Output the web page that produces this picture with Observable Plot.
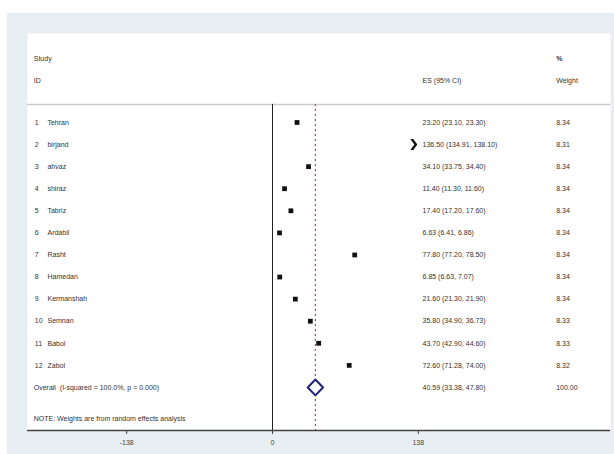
<!DOCTYPE html>
<html><head><meta charset="utf-8">
<script src="https://cdn.jsdelivr.net/npm/d3@7"></script>
<script src="https://cdn.jsdelivr.net/npm/@observablehq/plot@0.6"></script>
<style>
html,body{margin:0;padding:0;background:#fff;}
#chart{position:absolute;left:7px;top:13px;}
</style></head><body><div id="chart"></div>
<script>
// ---- data ----
const ids = [1,2,3,4,5,6,7,8,9,10,11,12];
const studies = ["Tehran","birjand","ahvaz","shiraz","Tabriz","Ardabil","Rasht","Hamedan","Kermanshah","Semnan","Babol","Zabol"];
const es = [23.20,136.50,34.10,11.40,17.40,6.63,77.80,6.85,21.60,35.80,43.70,72.60];
const lower = [23.10,134.91,33.75,11.30,17.20,6.41,77.20,6.63,21.30,34.90,42.90,71.28];
const upper = [23.30,138.10,34.40,11.60,17.60,6.86,78.50,7.07,21.90,36.73,44.60,74.00];
const weights = [8.34,8.31,8.34,8.34,8.34,8.34,8.34,8.34,8.34,8.33,8.33,8.32];
const overallES = 40.59, overallLower = 33.38, overallUpper = 47.80, overallWeight = 100.00;
const overallLabel = "Overall  (I-squared = 100.0%, p = 0.000)";
const noteLabel = "NOTE: Weights are from random effects analysis";
const headers = {study: "Study", id: "ID", es: "ES (95% CI)", pct: "%", weight: "Weight"};
const xTicks = [-138, 0, 138];

// ---- layout ----
const xMax = 138;
const xDomain = [-231.9, 319.9];
const yDomain = [-3.03, 14.95];
const colStudy = -226, colNum = -225, colName = -213, colES = 142, colW = 268.5;
const sepRow = 0.18, overallRow = 13, noteRow = 14.4, hdr1 = -1.9, hdr2 = -0.9;

const rows = ids.map((id, i) => ({
  row: i + 1, id, name: studies[i], es: es[i], lo: lower[i], hi: upper[i], w: weights[i],
  esText: `${es[i].toFixed(2)} (${lower[i].toFixed(2)}, ${upper[i].toFixed(2)})`,
  wText: weights[i].toFixed(2),
  clipped: upper[i] > xMax
}));
const inRange = rows.filter(d => !d.clipped);
const outRange = rows.filter(d => d.clipped);

const dh = 0.36;
const diamond = [
  {x: overallLower, y: overallRow}, {x: overallES, y: overallRow - dh},
  {x: overallUpper, y: overallRow}, {x: overallES, y: overallRow + dh},
  {x: overallLower, y: overallRow}
];

const chevron = {
  draw(ctx, size) {
    ctx.moveTo(-8, -5.5); ctx.lineTo(-5, -5.5); ctx.lineTo(-1, 0);
    ctx.lineTo(-5, 5.5); ctx.lineTo(-8, 5.5); ctx.lineTo(-4, 0); ctx.closePath();
  }
};

const txt = {fontSize: 7, fill: "#333", textAnchor: "start", lineAnchor: "middle", fontFamily: "Liberation Sans, Arial, sans-serif"};

const chart = Plot.plot({
  width: 607, height: 441,
  marginLeft: 20, marginRight: 4, marginTop: 20, marginBottom: 24,
  style: {background: "#e8eff2", fontFamily: "Liberation Sans, Arial, sans-serif"},
  x: {domain: xDomain, axis: null},
  y: {domain: yDomain, axis: null, reverse: true},
  marks: [
    Plot.frame({fill: "white", stroke: "none"}),
    Plot.ruleY([sepRow], {stroke: "#c9cccf", strokeWidth: 1.5}),
    Plot.ruleX([0], {y1: sepRow, y2: yDomain[1], stroke: "#222", strokeWidth: 1}),
    Plot.ruleX([overallES], {y1: sepRow, y2: yDomain[1], stroke: "#d0386a", strokeWidth: 1.2, strokeDasharray: "2,3"}),
    Plot.ruleY([yDomain[1]], {stroke: "#444", strokeWidth: 1.3}),
    Plot.axisX({ticks: xTicks, tickFormat: d => String(d), tickSize: 4, tickPadding: 6, fontSize: 7, color: "#444"}),
    // headers
    Plot.text([headers.study], {x: colStudy, y: hdr1, text: d => d, ...txt}),
    Plot.text([headers.id], {x: colStudy, y: hdr2, text: d => d, ...txt}),
    Plot.text([headers.es], {x: colES, y: hdr2, text: d => d, ...txt}),
    Plot.text([headers.pct], {x: colW, y: hdr1, text: d => d, ...txt, fontWeight: "bold"}),
    Plot.text([headers.weight], {x: colW, y: hdr2, text: d => d, ...txt}),
    // study rows
    Plot.text(rows, {x: colNum, y: "row", text: d => String(d.id), ...txt}),
    Plot.text(rows, {x: colName, y: "row", text: "name", ...txt}),
    Plot.text(rows, {x: colES, y: "row", text: "esText", ...txt}),
    Plot.text(rows, {x: colW, y: "row", text: "wText", ...txt}),
    Plot.ruleY(inRange, {x1: "lo", x2: "hi", y: "row", stroke: "#111", strokeWidth: 1}),
    Plot.dot(inRange, {x: "es", y: "row", symbol: "square", r: 2.7, fill: "#111"}),
    Plot.dot(outRange, {x: () => xMax, y: "row", symbol: chevron, r: 3, fill: "#111"}),
    // overall
    Plot.text([overallLabel], {x: colStudy, y: overallRow, text: d => d, ...txt}),
    Plot.text([`${overallES.toFixed(2)} (${overallLower.toFixed(2)}, ${overallUpper.toFixed(2)})`], {x: colES, y: overallRow, text: d => d, ...txt}),
    Plot.text([overallWeight.toFixed(2)], {x: colW, y: overallRow, text: d => d, ...txt}),
    Plot.line(diamond, {x: "x", y: "y", stroke: "#22227a", strokeWidth: 2, fill: "white"}),
    Plot.text([noteLabel], {x: colStudy, y: noteRow, text: d => d, ...txt})
  ]
});
document.getElementById("chart").append(chart);
</script></body></html>
